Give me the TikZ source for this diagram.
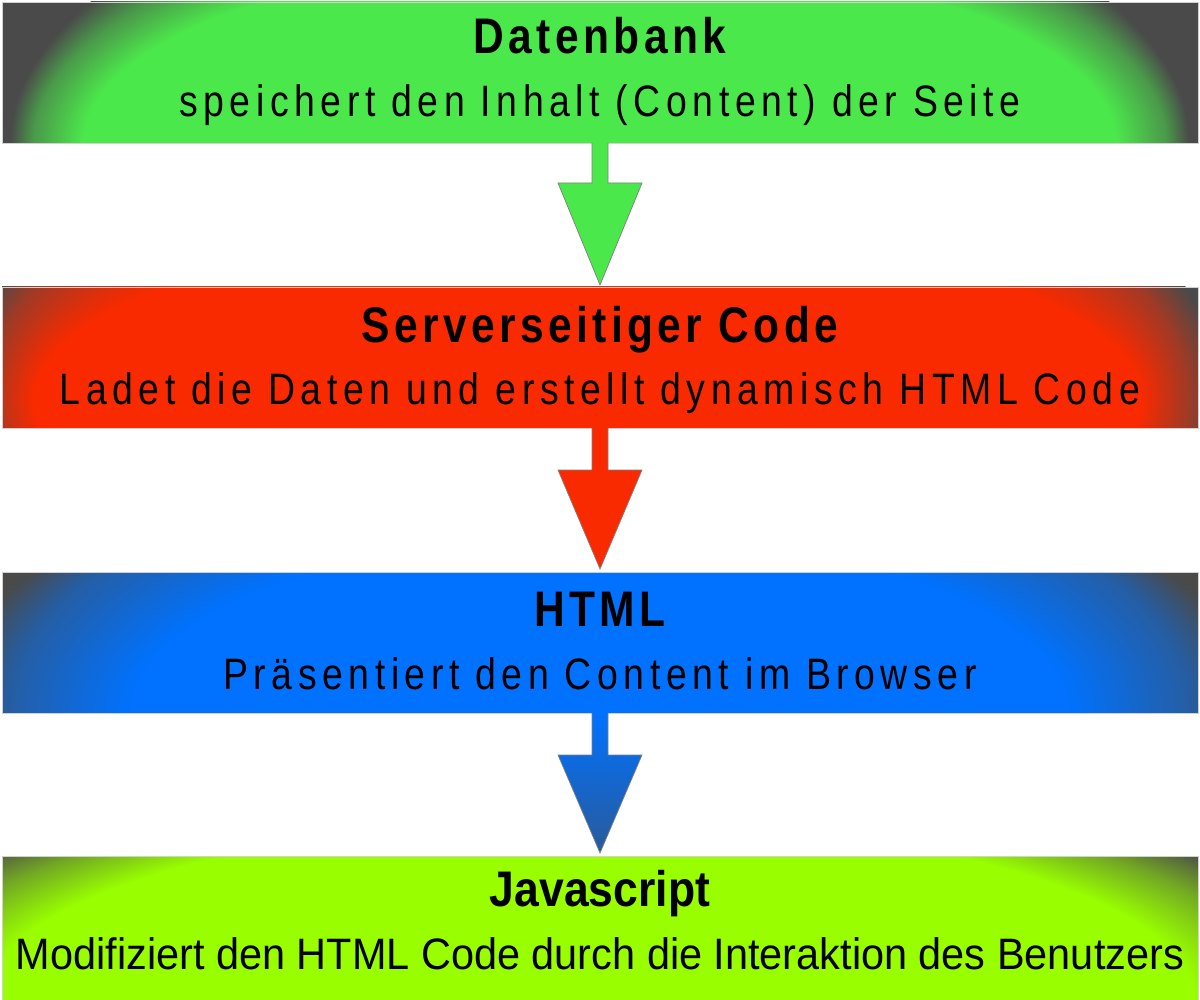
\documentclass[tikz,border=0pt]{standalone}
\usepackage{fontspec}
\setmainfont{Liberation Sans}
\newfontfamily\titlefont[FakeStretch=0.85,LetterSpace=8.8]{Liberation Sans}
\newfontfamily\subfont[FakeStretch=0.85,LetterSpace=12.6]{Liberation Sans}
\newfontfamily\jsfont[FakeStretch=0.89]{Liberation Sans}
\newfontfamily\modfont[FakeStretch=0.942]{Liberation Sans}
\usetikzlibrary{calc}
\definecolor{cdark}{HTML}{4A4A4A}
\definecolor{cgreen}{HTML}{4BE84B}
\definecolor{cred}{HTML}{F92A00}
\definecolor{cblue}{HTML}{0072FF}
\definecolor{clime}{HTML}{99FF00}
\definecolor{cbluedark}{HTML}{2A5A9A}
% band with dark corners: #1 colour, #2 top, #3 bottom of the band
% uses \gcx \gcy (centre), \gaa \gba (0% ellipse), \gam \gbm (50% ellipse), \gai \gbi (100% ellipse)
\newcommand\glowbox[3]{%
  \begin{scope}
    \clip (2,#2) rectangle (1198,#3);
    \fill[cdark] (2,#2) rectangle (1198,#3);
    \foreach \i in {0,...,60}{%
      \ifnum\i<31
        \pgfmathsetmacro{\gs}{\i/30}%
        \pgfmathsetmacro{\ra}{\gaa+(\gam-\gaa)*\gs}%
        \pgfmathsetmacro{\rb}{\gba+(\gbm-\gba)*\gs}%
      \else
        \pgfmathsetmacro{\gs}{(\i-30)/30}%
        \pgfmathsetmacro{\ra}{\gam+(\gai-\gam)*\gs}%
        \pgfmathsetmacro{\rb}{\gbm+(\gbi-\gbm)*\gs}%
      \fi
      \pgfmathsetmacro{\pc}{100*\i/60}%
      \fill[color=#1!\pc!cdark] (\gcx,\gcy) ellipse [x radius=\ra, y radius=\rb];
    }
  \end{scope}}
\begin{document}
\begin{tikzpicture}[x=1pt,y=-1pt,
  box/.style={minimum width=1196pt, minimum height=141pt, inner sep=0pt, outer sep=0pt, draw=black!18, line width=0.8pt},
  ttl/.style={anchor=base, inner sep=0pt, font=\titlefont\bfseries\fontsize{50}{60}\selectfont},
  sub/.style={anchor=base, inner sep=0pt, font=\subfont\fontsize{44}{52}\selectfont},
  jst/.style={anchor=base, inner sep=0pt, font=\jsfont\bfseries\fontsize{50}{60}\selectfont},
  modt/.style={anchor=base, inner sep=0pt, font=\modfont\fontsize{44}{52}\selectfont},
  arrowshape/.style={draw=black!50, line width=0.7pt, line join=miter}
]
\useasboundingbox (0,0) rectangle (1200,1000);
% backgrounds
\def\gcx{600}\def\gcy{143}\def\gaa{590}\def\gba{280}\def\gam{567}\def\gbm{232}\def\gai{517}\def\gbi{187}
\glowbox{cgreen}{2}{143}
\def\gcx{588}\def\gcy{400}\def\gaa{640}\def\gba{316}\def\gam{600}\def\gbm{283}\def\gai{555}\def\gbi{174}
\glowbox{cred}{287}{428}
\def\gcx{600}\def\gcy{713}\def\gaa{660}\def\gba{278}\def\gam{590}\def\gbm{272}\def\gai{470}\def\gbi{179}
\glowbox{cblue}{572}{713}
\def\gcx{590}\def\gcy{1000}\def\gaa{780}\def\gba{237}\def\gam{701}\def\gbm{213}\def\gai{605}\def\gbi{181}
\glowbox{clime}{856}{1002}
% boxes
\node[box] (db) at (600,72.5) {};
\node[box] (sc) at (600,357.5) {};
\node[box] (hb) at (600,642.5) {};
\node[box, minimum height=146pt] (js) at (600,929) {};
% arrows
\path[arrowshape, fill=cgreen] ($(db.south)+(-8,0)$) -- ($(db.south)+(-8,40)$) -- ($(db.south)+(-42,40)$) -- ($(sc.north)+(0,-2)$) -- ($(db.south)+(42,40)$) -- ($(db.south)+(8,40)$) -- ($(db.south)+(8,0)$);
\path[arrowshape, fill=cred] ($(sc.south)+(-8,0)$) -- ($(sc.south)+(-8,42)$) -- ($(sc.south)+(-42,42)$) -- ($(hb.north)+(0,-3)$) -- ($(sc.south)+(42,42)$) -- ($(sc.south)+(8,42)$) -- ($(sc.south)+(8,0)$);
\path[arrowshape, top color=cblue, bottom color=cbluedark] ($(hb.south)+(-8,0)$) -- ($(hb.south)+(-8,42)$) -- ($(hb.south)+(-42,42)$) -- ($(js.north)+(0,-3)$) -- ($(hb.south)+(42,42)$) -- ($(hb.south)+(8,42)$) -- ($(hb.south)+(8,0)$);
% texts
\node[ttl] (t1) at (600,54) {Datenbank};
\node[sub] (s1) at (600,117) {speichert den Inhalt (Content) der Seite};
\node[ttl] (t2) at (600,343) {Serverseitiger Code};
\node[sub] (s2) at (600,405) {Ladet die Daten und erstellt dynamisch HTML Code};
\node[ttl] (t3) at (600,626) {HTML};
\node[sub] (s3) at (600,689) {Präsentiert den Content im Browser};
\node[jst] (t4) at (600,906) {Javascript};
\node[modt] (s4) at (600,969) {Modifiziert den HTML Code durch die Interaktion des Benutzers};
\end{tikzpicture}
\end{document}
